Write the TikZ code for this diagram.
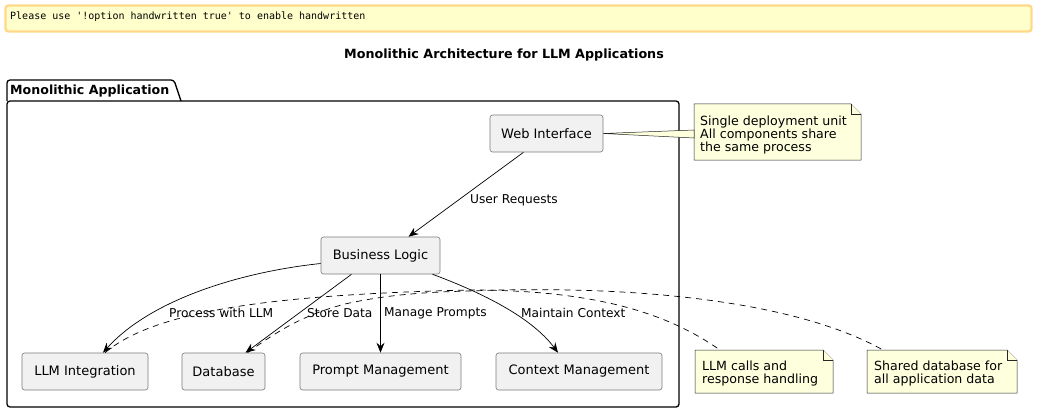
\documentclass[tikz,border=0pt]{standalone}
\usepackage{fontspec}
\setmainfont{DejaVu Sans}
\setmonofont{DejaVu Sans Mono}
\usetikzlibrary{arrows.meta,backgrounds}
\definecolor{compfill}{HTML}{F1F1F1}
\definecolor{compline}{HTML}{7A7A7A}
\definecolor{notefill}{HTML}{FEFFDD}
\definecolor{bannerfill}{HTML}{FFFFCC}
\definecolor{bannerline}{HTML}{FFD98A}
\tikzset{
  comp/.style={draw=compline, fill=compfill, line width=0.6pt, rounded corners=2.5pt,
    minimum height=37pt, inner sep=0pt, font=\fontsize{13}{15}\selectfont},
  notetext/.style={anchor=north west, align=left, inner sep=0pt,
    font=\fontsize{12.6}{13.2}\selectfont},
  lbl/.style={anchor=west, inner sep=0pt, font=\fontsize{12.2}{14}\selectfont},
  conn/.style={line width=0.7pt, -{Stealth[length=10pt,width=8pt,inset=3.5pt]}},
  dashconn/.style={line width=0.7pt, dash pattern=on 6pt off 5pt},
  notepath/.style={draw=black!85, fill=notefill, line width=0.5pt},
}
\begin{document}
\begin{tikzpicture}[x=1pt,y=-1pt]
\useasboundingbox (0,0) rectangle (1037,412);
% banner
\node[draw=bannerline, fill=bannerfill, line width=2.4pt, rounded corners=3pt,
  minimum width=1026pt, minimum height=26pt, inner sep=0pt] (banner) at (518.5,18.5) {};
\node[anchor=west, inner sep=0pt, font=\ttfamily\fontsize{10}{12}\selectfont] (bannertxt) at (10,17)
  {Please use '!option handwritten true' to enable handwritten};
% title
\node[font=\bfseries\fontsize{12.7}{15}\selectfont, inner sep=0pt] (title) at (504,55)
  {Monolithic Architecture for LLM Applications};
% package
\draw[line width=1.3pt, rounded corners=3pt] (7,101) -- (7,80) -- (174,80) -- (181,101);
\draw[line width=1.3pt, rounded corners=3pt] (7,101) rectangle (679,407);
\node[anchor=west, inner sep=0pt, font=\bfseries\fontsize{12.6}{15}\selectfont] (pkg) at (10,91)
  {Monolithic Application};
% components
\node[comp, minimum width=113pt] (web) at (546.5,133.5) {Web Interface};
\node[comp, minimum width=119pt] (bl) at (380.5,255.5) {Business Logic};
\node[comp, minimum width=126pt] (llm) at (85,371.5) {LLM Integration};
\node[comp, minimum width=83pt] (db) at (223.5,371.5) {Database};
\node[comp, minimum width=161pt] (pm) at (380.5,371.5) {Prompt Management};
\node[comp, minimum width=166pt] (cm) at (579,371.5) {Context Management};
% notes
\node[notetext] (n1) at (700,115.5) {Single deployment unit\\All components share\\the same process};
\node[notetext] (n2) at (702,361) {LLM calls and\\response handling};
\node[notetext] (n3) at (874,361) {Shared database for\\all application data};
\begin{scope}[on background layer]
  \coordinate (n1tl) at (694,104); \coordinate (n1br) at (861,160);
  \draw[notepath] (n1tl) -- (851,104) -- (861,114) -- (n1br) -- (694,160) -- cycle;
  \draw[notepath] (851,104) -- (851,114) -- (861,114);
  \draw[notepath] (695,350) -- (823,350) -- (833,360) -- (833,393) -- (695,393) -- cycle;
  \draw[notepath] (823,350) -- (823,360) -- (833,360);
  \draw[notepath] (867,350) -- (1007,350) -- (1017,360) -- (1017,393) -- (867,393) -- cycle;
  \draw[notepath] (1007,350) -- (1007,360) -- (1017,360);
\end{scope}
% web -> note wedge
\coordinate (w1) at (694,130);
\coordinate (w2) at (694,138);
\draw[notepath] (web.east) -- (w1) -- (w2) -- cycle;
% arrows
\draw[conn] ([xshift=-23pt]web.south) -- ([xshift=28pt]bl.north);
\node[lbl] (l1) at (470,200) {User Requests};
\draw[conn] ([yshift=-8pt]bl.west) .. controls (240,272) and (150,300) .. ([xshift=18pt]llm.north);
\draw[conn] ([xshift=-29pt]bl.south) -- ([xshift=22pt]db.north);
\draw[conn] (bl.south) -- (pm.north);
\draw[conn] ([xshift=52pt]bl.south) .. controls (475,290) and (530,315) .. ([xshift=-21pt]cm.north);
\node[lbl] (l2) at (169,313) {Process with LLM};
\node[lbl] (l3) at (307,313) {Store Data};
\node[lbl] (l4) at (384,313) {Manage Prompts};
\node[lbl] (l5) at (521,313) {Maintain Context};
% dashed note links
\coordinate (m1) at (470,290);
\coordinate (m2) at (470,291);
\draw[dashconn] ([xshift=20pt]llm.north) .. controls (150,315) and (250,295) .. (m1)
  .. controls (600,290) and (670,315) .. (720,350);
\draw[dashconn] ([xshift=24pt]db.north) .. controls (275,333) and (300,316) .. (345,304)
  coordinate (m3) .. controls (390,294) and (430,292) .. (m2)
  .. controls (620,285) and (790,298) .. (883,350);
\end{tikzpicture}
\end{document}
